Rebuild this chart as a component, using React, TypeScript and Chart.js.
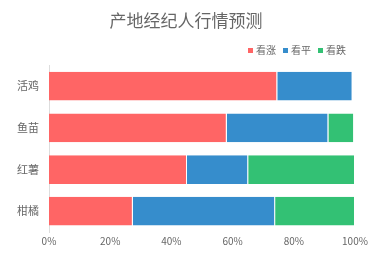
import React, { useEffect, useRef } from "react";
import { Chart, registerables } from "chart.js";

Chart.register(...registerables);

const title = "产地经纪人行情预测";
const categories = ["活鸡", "鱼苗", "红薯", "柑橘"];
const seriesNames = ["看涨", "看平", "看跌"];
const rise = [74.6, 58.1, 45.1, 27.4];
const flat = [24.6, 33.2, 20.0, 46.5];
const fall = [0, 8.4, 34.9, 26.1];
const xTicks = [0, 20, 40, 60, 80, 100];
const colors = ["#ff6565", "#368dcc", "#33c174"];

export default function App() {
  const ref = useRef<HTMLCanvasElement>(null);
  useEffect(() => {
    document.body.style.margin = "0";
    const font = "'Noto Sans CJK SC', 'Noto Sans', sans-serif";
    const values = [rise, flat, fall];
    const chart = new Chart(ref.current!, {
      type: "bar",
      data: {
        labels: categories,
        datasets: seriesNames.map((n, i) => ({
          label: n,
          data: values[i],
          backgroundColor: colors[i],
          borderColor: "#ffffff",
          borderWidth: { left: 0, right: 1, top: 0, bottom: 0 },
          borderSkipped: false,
          barPercentage: 0.69,
          categoryPercentage: 1,
        })),
      },
      options: {
        indexAxis: "y",
        responsive: false,
        animation: false,
        layout: { padding: { left: 0, right: 6, top: 0, bottom: 3 } },
        plugins: {
          title: {
            display: true,
            text: title,
            color: "#666",
            font: { family: font, size: 17, weight: "normal" },
            padding: { top: 10, bottom: 6 },
          },
          legend: {
            position: "top",
            align: "end",
            fullSize: false,
            labels: {
              color: "#666",
              font: { family: font, size: 10 },
              usePointStyle: true,
              pointStyle: "rect",
              boxWidth: 1,
              boxHeight: 5,
              padding: 9,
              generateLabels: (c: any) =>
                c.data.datasets.map((d: any, i: number) => ({
                  text: d.label,
                  fillStyle: d.backgroundColor,
                  strokeStyle: d.backgroundColor,
                  lineWidth: 0,
                  pointStyle: "rect",
                  fontColor: "#666",
                  hidden: false,
                  datasetIndex: i,
                })),
            },
          },
          tooltip: { enabled: false },
        },
        scales: {
          x: {
            stacked: true,
            min: 0,
            max: 100,
            afterBuildTicks: (s: any) => {
              s.ticks = xTicks.map((v) => ({ value: v }));
            },
            ticks: {
              color: "#666",
              font: { family: font, size: 10 },
              callback: (v: any) => v + "%",
              padding: 3,
              maxRotation: 0,
            },
            grid: { display: false, drawTicks: false },
            border: { display: false },
          },
          y: {
            stacked: true,
            afterFit: (s: any) => {
              s.width = 49;
            },
            ticks: {
              color: "#666",
              font: { family: font, size: 11 },
              padding: 10,
            },
            grid: { display: false, drawTicks: false },
            border: { display: true, color: "#ddd" },
          },
          y2: {
            type: "linear",
            axis: "y",
            position: "right",
            display: true,
            afterFit: (s: any) => {
              s.width = 17;
            },
            ticks: { display: false },
            grid: { display: false, drawTicks: false },
            border: { display: false },
          },
        },
      },
    });
    return () => chart.destroy();
  }, []);
  return <canvas ref={ref} width={378} height={253} style={{ display: "block" }} />;
}
